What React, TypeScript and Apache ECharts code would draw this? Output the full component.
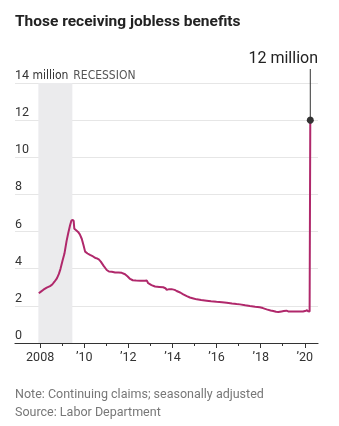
import React, { useEffect, useRef } from "react";
import * as echarts from "echarts";

const title = "Those receiving jobless benefits";
const noteLines = ["Note: Continuing claims; seasonally adjusted", "Source: Labor Department"];
const peakLabel = "12 million";
const recessionLabel = "RECESSION";
const recession = [2007.92, 2009.46];
const majorTicks = [2008, 2010, 2012, 2014, 2016, 2018, 2020];
const minorTicks = [2009, 2011, 2013, 2015, 2017, 2019];
const yTicks = [0, 2, 4, 6, 8, 10, 12, 14];

const years = [
  2007.94, 2008.05, 2008.15, 2008.3, 2008.45, 2008.55, 2008.65, 2008.76, 2008.85, 2008.92,
  2009.02, 2009.1, 2009.2, 2009.28, 2009.36, 2009.42, 2009.48, 2009.52, 2009.55, 2009.62,
  2009.72, 2009.8, 2009.89, 2009.97, 2010.04, 2010.15, 2010.26, 2010.4, 2010.5, 2010.57,
  2010.66, 2010.75, 2010.88, 2011.02, 2011.12, 2011.25, 2011.4, 2011.55, 2011.7, 2011.85,
  2011.97, 2012.08, 2012.2, 2012.35, 2012.55, 2012.75, 2012.84, 2012.9, 2013.05, 2013.21,
  2013.4, 2013.58, 2013.68, 2013.74, 2013.85, 2013.96, 2014.1, 2014.19, 2014.35, 2014.49,
  2014.65, 2014.79, 2014.95, 2015.1, 2015.3, 2015.55, 2015.75, 2016.0, 2016.25, 2016.46,
  2016.7, 2016.91, 2017.06, 2017.3, 2017.51, 2017.75, 2017.96, 2018.1, 2018.27, 2018.45,
  2018.57, 2018.7, 2018.8, 2018.95, 2019.05, 2019.17, 2019.25, 2019.32, 2019.5, 2019.7,
  2019.92, 2020.05, 2020.1, 2020.15, 2020.22, 2020.25,
];
const claims = [
  2.68, 2.78, 2.87, 2.98, 3.06, 3.15, 3.3, 3.48, 3.72, 3.98,
  4.45, 4.8, 5.5, 5.95, 6.35, 6.6, 6.62, 6.58, 6.15, 6.08,
  5.98, 5.85, 5.6, 5.25, 4.92, 4.82, 4.74, 4.66, 4.58, 4.56,
  4.5, 4.38, 4.15, 3.93, 3.85, 3.84, 3.8, 3.8, 3.78, 3.7,
  3.58, 3.45, 3.38, 3.36, 3.35, 3.35, 3.36, 3.22, 3.12, 3.04,
  3.02, 3.0, 2.95, 2.86, 2.9, 2.9, 2.86, 2.8, 2.72, 2.62,
  2.52, 2.45, 2.4, 2.35, 2.31, 2.28, 2.25, 2.22, 2.2, 2.17,
  2.13, 2.1, 2.08, 2.03, 1.99, 1.95, 1.92, 1.88, 1.81, 1.75,
  1.72, 1.68, 1.67, 1.7, 1.72, 1.74, 1.7, 1.69, 1.7, 1.7,
  1.7, 1.74, 1.76, 1.71, 1.7, 12.0,
];

const FONT = "Roboto, 'Noto Sans', sans-serif";
const NARROW = "'Liberation Sans Narrow', 'DejaVu Sans Condensed', Roboto, sans-serif";

export default function App() {
  const ref = useRef<HTMLDivElement>(null);
  useEffect(() => {
    if (!ref.current) return;
    const chart = echarts.init(ref.current, null, { renderer: "svg" });
    const data = years.map((y, i) => [y, claims[i]]);
    const last = data[data.length - 1];
    const xMin = 2006.86;
    const xMax = 2020.6;
    chart.setOption({
      animation: false,
      grid: { left: 15, right: 21, top: 83, bottom: 83, containLabel: false },
      xAxis: [
        {
          type: "value",
          min: xMin,
          max: xMax,
          axisLine: { show: true, lineStyle: { color: "#333", width: 1.2 } },
          axisTick: { show: true, length: 5, lineStyle: { color: "#333" }, customValues: majorTicks },
          axisLabel: {
            customValues: majorTicks,
            margin: 7,
            color: "#333",
            fontSize: 12.5,
            fontFamily: FONT,
            formatter: (v: number) => (Math.round(v) === 2008 ? "2008" : "\u2019" + String(Math.round(v)).slice(2)),
          },
          splitLine: { show: false },
        },
        {
          type: "value",
          min: xMin,
          max: xMax,
          position: "bottom",
          axisLine: { show: false },
          axisTick: { show: true, length: 3, lineStyle: { color: "#333" }, customValues: minorTicks },
          axisLabel: { show: false },
          splitLine: { show: false },
        },
      ],
      yAxis: {
        type: "value",
        min: 0,
        max: 14,
        interval: 2,
        axisLine: { show: false },
        axisTick: { show: false },
        splitLine: { show: true, lineStyle: { color: "#e6e6e6", width: 1.2 } },
        axisLabel: {
          inside: true,
          margin: 0,
          verticalAlign: "bottom",
          padding: [0, 0, 2, 0],
          color: "#333",
          fontSize: 12.5,
          fontFamily: FONT,
          formatter: (v: number) => (v === 14 ? "{n|14}{m| million}" : String(v)),
          rich: {
            n: { fontSize: 12.5, fontFamily: FONT, color: "#333" },
            m: { fontSize: 12, fontFamily: NARROW, color: "#333" },
          },
        },
      },
      series: [
        {
          type: "line",
          data,
          showSymbol: false,
          clip: false,
          lineStyle: { color: "#b0286b", width: 2 },
          itemStyle: { color: "#b0286b" },
          z: 3,
          markArea: {
            silent: true,
            itemStyle: { color: "#ebebed" },
            data: [[{ xAxis: recession[0] }, { xAxis: recession[1] }]],
            z: 1,
          },
          markPoint: {
            silent: true,
            symbol: "circle",
            symbolSize: 7,
            itemStyle: { color: "#333" },
            label: { show: false },
            data: [{ coord: last }],
          },
        },
      ],
    });
    const dot = chart.convertToPixel({ gridIndex: 0 }, last) as number[];
    const recX = chart.convertToPixel({ xAxisIndex: 0 }, recession[1]) as number;
    const gridTop = chart.convertToPixel({ yAxisIndex: 0 }, 14) as number;
    chart.setOption({
      graphic: [
        {
          type: "text",
          left: 15,
          top: 13,
          style: { text: title, font: `bold 15.5px ${FONT}`, fill: "#222" },
        },
        {
          type: "line",
          shape: { x1: dot[0], y1: dot[1], x2: dot[0], y2: 69 },
          style: { stroke: "#333", lineWidth: 1 },
          z: 10,
        },
        {
          type: "text",
          x: 318,
          y: 57,
          style: { text: peakLabel, font: `16px ${FONT}`, fill: "#222", align: "right", verticalAlign: "middle" },
        },
        {
          type: "text",
          x: recX + 1,
          y: gridTop - 2,
          style: { text: recessionLabel, font: `12px ${NARROW}`, fill: "#555", align: "left", verticalAlign: "bottom" },
        },
        {
          type: "text",
          left: 15,
          top: 384,
          style: { text: noteLines.join("\n"), font: `12.5px ${FONT}`, fill: "#777", lineHeight: 18 },
        },
      ],
    });
    return () => chart.dispose();
  }, []);
  return <div ref={ref} style={{ position: "fixed", left: 0, top: 0, width: 339, height: 426 }} />;
}
